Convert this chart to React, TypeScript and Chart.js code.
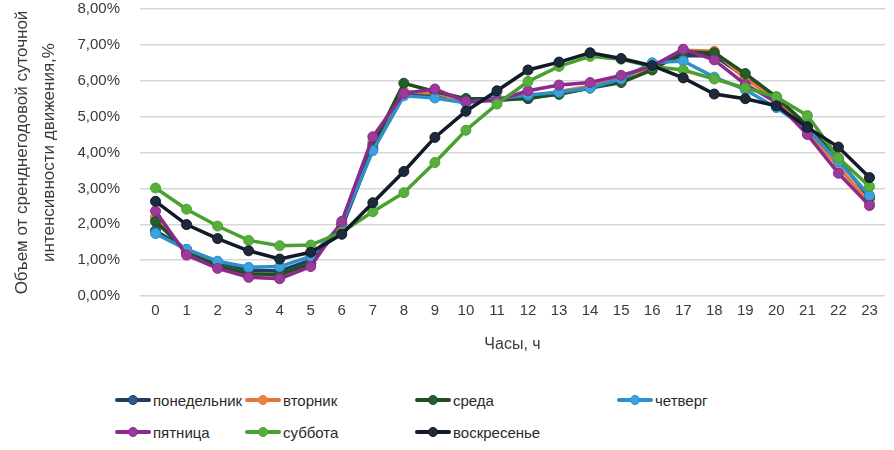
import { useEffect, useRef } from "react";
import { Chart, registerables, type ChartConfiguration } from "chart.js";

Chart.register(...registerables);

const HOURS = ["0", "1", "2", "3", "4", "5", "6", "7", "8", "9", "10", "11", "12", "13", "14", "15", "16", "17", "18", "19", "20", "21", "22", "23"];

const MONDAY = [1.82, 1.3, 0.95, 0.72, 0.7, 1.0, 1.9, 4.1, 5.65, 5.6, 5.5, 5.5, 5.5, 5.65, 5.8, 6.05, 6.42, 6.7, 6.7, 6.1, 5.45, 4.7, 3.8, 2.75];
const TUESDAY = [2.2, 1.2, 0.85, 0.6, 0.57, 0.9, 2.0, 4.3, 5.7, 5.65, 5.45, 5.45, 5.55, 5.7, 5.85, 6.1, 6.35, 6.85, 6.82, 6.05, 5.5, 4.6, 3.6, 2.6];
const WEDNESDAY = [2.08, 1.25, 0.85, 0.62, 0.6, 0.9, 2.0, 4.2, 5.93, 5.7, 5.5, 5.45, 5.52, 5.62, 5.8, 5.95, 6.3, 6.8, 6.78, 6.2, 5.55, 4.75, 3.8, 2.75];
const THURSDAY = [1.74, 1.3, 0.97, 0.8, 0.82, 1.1, 2.0, 4.05, 5.58, 5.52, 5.38, 5.5, 5.6, 5.68, 5.8, 6.05, 6.5, 6.55, 6.1, 5.75, 5.25, 4.65, 3.75, 2.8];
const FRIDAY = [2.37, 1.14, 0.77, 0.52, 0.48, 0.82, 2.08, 4.44, 5.65, 5.77, 5.42, 5.45, 5.72, 5.88, 5.95, 6.15, 6.4, 6.88, 6.58, 5.9, 5.4, 4.5, 3.42, 2.52];
const SATURDAY = [3.01, 2.42, 1.95, 1.55, 1.4, 1.42, 1.78, 2.35, 2.88, 3.72, 4.62, 5.35, 5.98, 6.4, 6.68, 6.6, 6.4, 6.3, 6.05, 5.8, 5.55, 5.03, 3.85, 3.05];
const SUNDAY = [2.64, 1.99, 1.6, 1.26, 1.03, 1.22, 1.72, 2.6, 3.47, 4.42, 5.15, 5.72, 6.3, 6.52, 6.78, 6.62, 6.42, 6.08, 5.63, 5.5, 5.3, 4.7, 4.15, 3.3];

const DAY_LABELS = ["понедельник", "вторник", "среда", "четверг", "пятница", "суббота", "воскресенье"];
const DAY_SERIES = [MONDAY, TUESDAY, WEDNESDAY, THURSDAY, FRIDAY, SATURDAY, SUNDAY];
const LINE_COLORS = ["#1f3d63", "#e0793a", "#1d4f22", "#2f8fc9", "#8b2a8c", "#4aa02f", "#111a26"];
const POINT_COLORS = ["#2a5d8c", "#e8844a", "#245f28", "#3aa2dc", "#9c3a9c", "#58b03c", "#1c2a3c"];

const FONT = "'Liberation Sans', Arial, sans-serif";
const TEXT_COLOR = "#3a3a3a";

// legend column x positions (Excel-style fixed slots), 4 items per row
const LEGEND_COLS = [115, 245, 415, 617];
const LEGEND_ROWS = [400, 432];

function LegendItem({ label, line, point, left, top }: { label: string; line: string; point: string; left: number; top: number }) {
  return (
    <div style={{ position: "absolute", left, top: top - 10, height: 20, display: "flex", alignItems: "center" }}>
      <div style={{ position: "relative", width: 36, height: 20 }}>
        <div style={{ position: "absolute", left: 0, top: 8, width: 36, height: 4, background: line, borderRadius: 2 }} />
        <div style={{ position: "absolute", left: 13, top: 5, width: 10, height: 10, borderRadius: "50%", background: point, border: `1px solid ${line}`, boxSizing: "border-box" }} />
      </div>
      <span style={{ marginLeft: 2, fontSize: 15, color: "#2a2a2a", fontFamily: FONT }}>{label}</span>
    </div>
  );
}

export default function App(): JSX.Element {
  const canvasRef = useRef<HTMLCanvasElement>(null);
  const chartRef = useRef<Chart | null>(null);

  useEffect(() => {
    document.body.style.margin = "0";
    const canvas = canvasRef.current;
    if (!canvas) return;

    const config: ChartConfiguration<"line"> = {
      type: "line",
      data: {
        labels: HOURS,
        datasets: DAY_SERIES.map((values, i) => ({
          label: DAY_LABELS[i],
          data: values,
          borderColor: LINE_COLORS[i],
          backgroundColor: POINT_COLORS[i],
          pointBackgroundColor: POINT_COLORS[i],
          pointBorderColor: LINE_COLORS[i],
          pointBorderWidth: 1,
          pointRadius: 5,
          borderWidth: 3.5,
          tension: 0,
          fill: false,
          // Excel draws later series on top
          order: DAY_SERIES.length - i,
        })),
      },
      options: {
        responsive: true,
        maintainAspectRatio: false,
        animation: false,
        layout: { padding: { top: 8, right: 9, left: 0, bottom: 0 } },
        plugins: {
          legend: { display: false },
          tooltip: { enabled: false },
        },
        scales: {
          x: {
            offset: true,
            grid: { display: false, drawTicks: false },
            border: { display: false },
            ticks: {
              padding: 6,
              maxRotation: 0,
              autoSkip: false,
              color: TEXT_COLOR,
              font: { family: FONT, size: 15 },
            },
            title: {
              display: true,
              text: "Часы, ч",
              color: TEXT_COLOR,
              font: { family: FONT, size: 16 },
              padding: { top: 0, bottom: 6 },
            },
            afterFit: (scale) => {
              scale.height = 64;
            },
          },
          y: {
            min: 0,
            max: 8,
            // invisible tick marks give the label gap without adding top padding
            grid: { color: "#d6d6d6", lineWidth: 1.5, drawTicks: true, tickLength: 20, tickColor: "rgba(0,0,0,0)" },
            border: { display: false },
            ticks: {
              stepSize: 1,
              padding: 0,
              color: TEXT_COLOR,
              font: { family: FONT, size: 15 },
              callback: (v) => Number(v).toFixed(2).replace(".", ",") + "%",
            },
            title: {
              display: true,
              text: ["Объем от сренднегодовой суточной", "интенсивности движения,%"],
              color: TEXT_COLOR,
              font: { family: FONT, size: 17, lineHeight: 1.6 },
              padding: { top: 9, bottom: 0 },
            },
            afterFit: (scale) => {
              scale.width = 140;
            },
          },
        },
      },
    };

    chartRef.current?.destroy();
    Chart.getChart(canvas)?.destroy();
    chartRef.current = new Chart(canvas, config);

    return () => {
      chartRef.current?.destroy();
      chartRef.current = null;
    };
  }, []);

  return (
    <div style={{ position: "relative", width: 894, height: 450, background: "#fff", overflow: "hidden" }}>
      <div style={{ position: "absolute", left: 0, top: 0, width: 894, height: 360 }}>
        <canvas ref={canvasRef} />
      </div>
      {DAY_LABELS.map((label, i) => (
        <LegendItem
          key={label}
          label={label}
          line={LINE_COLORS[i]}
          point={POINT_COLORS[i]}
          left={LEGEND_COLS[i % 4]}
          top={LEGEND_ROWS[Math.floor(i / 4)]}
        />
      ))}
    </div>
  );
}
